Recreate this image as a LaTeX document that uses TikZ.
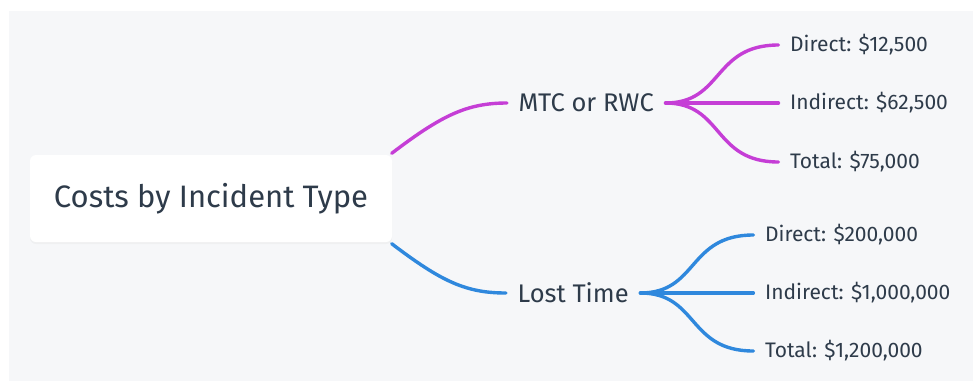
\documentclass[tikz,border=0pt]{standalone}
\usepackage{fontspec}
\setmainfont{Fira Sans}
\usetikzlibrary{positioning,shadows}

\definecolor{panel}{HTML}{F6F7F9}
\definecolor{ink}{HTML}{2E3B4A}
\definecolor{mtccol}{HTML}{C53ED6}
\definecolor{lostcol}{HTML}{2F88DD}

\begin{document}
\begin{tikzpicture}[x=1pt,y=-1pt,line cap=round,line width=3.4pt,node distance=113pt]
  \tikzstyle{topic}=[text=ink,font=\fontsize{25.5}{30}\selectfont,inner xsep=10pt,anchor=west]
  \tikzstyle{leaf}=[text=ink,font=\fontsize{21}{25}\selectfont,inner xsep=10pt]
  \tikzstyle{branch}=[to path={.. controls +(58,0) and +(-66,0) .. (\tikztotarget)}]

  \useasboundingbox[fill=white] (0,0) rectangle (973,381);
  \fill[panel] (9,11) rectangle (973,381);

  \node[fill=white,rounded corners=6pt,minimum width=362pt,minimum height=87pt,
        text=ink,font=\fontsize{31}{36}\selectfont,
        drop shadow={opacity=0.06,shadow xshift=0pt,shadow yshift=-2pt}]
        (root) at (211,198.5) {Costs by Incident Type};

  \node[topic] (mtc)  at (507,103) {MTC or RWC};
  \node[topic] (lost) at (506,293) {Lost Time};

  \node[leaf] (mtcdirect)   [right=of mtc, yshift=58pt]  {Direct: \$12,500};
  \node[leaf] (mtcindirect) [right=of mtc]               {Indirect: \$62,500};
  \node[leaf] (mtctotal)    [right=of mtc, yshift=-59pt] {Total: \$75,000};

  \node[leaf] (lostdirect)   [right=of lost, yshift=58pt]  {Direct: \$200,000};
  \node[leaf] (lostindirect) [right=of lost]               {Indirect: \$1,000,000};
  \node[leaf] (losttotal)    [right=of lost, yshift=-58pt] {Total: \$1,200,000};

  \draw[mtccol]  ([xshift=-2pt]root.north east) .. controls +(50,-38) and +(-40,0) .. (mtc.west);
  \draw[lostcol] ([xshift=-2pt]root.south east) .. controls +(50,38) and +(-40,0) .. (lost.west);

  \path[draw=mtccol]
  (mtc.east) edge[branch] (mtcdirect.west)
             edge[branch] (mtcindirect.west)
             edge[branch] (mtctotal.west);
  \path[draw=lostcol]
  (lost.east) edge[branch] (lostdirect.west)
              edge[branch] (lostindirect.west)
              edge[branch] (losttotal.west);
\end{tikzpicture}
\end{document}
